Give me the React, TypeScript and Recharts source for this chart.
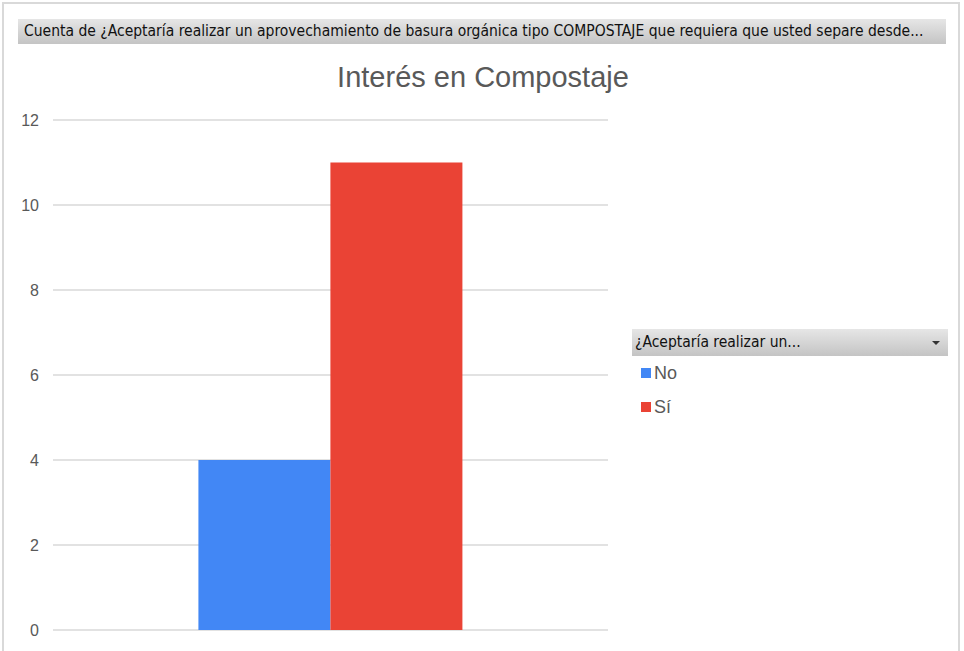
import React from "react";
import { BarChart, Bar, XAxis, YAxis, CartesianGrid, Legend } from "recharts";

const categories = ["Total"];
const seriesNames = ["No", "Sí"];
const seriesColors = ["#4287f5", "#ea4335"];
const noValues = [4];
const siValues = [11];
const yTicks = [0, 2, 4, 6, 8, 10, 12];

const data = categories.map((c, i) => ({
  name: c,
  No: noValues[i],
  "Sí": siValues[i],
}));

const fieldHeader =
  "Cuenta de ¿Aceptaría realizar un aprovechamiento de basura orgánica tipo COMPOSTAJE que requiera que usted separe desde...";
const title = "Interés en Compostaje";
const legendHeader = "¿Aceptaría realizar un...";

const barGradient = "linear-gradient(#e6e6e6, #c4c4c4)";

function LegendBox(props: any) {
  const payload = props.payload || [];
  return (
    <div style={{ width: 316 }}>
      <div
        style={{
          height: 27,
          background: barGradient,
          position: "relative",
          fontFamily: "'DejaVu Sans Condensed', 'DejaVu Sans', sans-serif",
          fontSize: 15.5,
          lineHeight: "27px",
          color: "#111",
          paddingLeft: 3,
          boxSizing: "border-box",
          textAlign: "left",
        }}
      >
        {legendHeader}
        <div
          style={{
            position: "absolute",
            right: 8,
            top: 12,
            width: 0,
            height: 0,
            borderLeft: "4px solid transparent",
            borderRight: "4px solid transparent",
            borderTop: "4px solid #333",
          }}
        />
      </div>
      {payload.map((p: any) => (
        <div
          key={p.value}
          style={{
            height: 34,
            display: "flex",
            alignItems: "center",
            paddingLeft: 9,
            fontFamily: "'Liberation Sans', Arial, sans-serif",
            fontSize: 18,
            color: "#595959",
          }}
        >
          <span
            style={{
              display: "inline-block",
              width: 10,
              height: 10,
              background: p.color,
              marginRight: 3,
            }}
          />
          {p.value}
        </div>
      ))}
    </div>
  );
}

export default function App() {
  return (
    <div
      style={{
        position: "absolute",
        left: 0,
        top: 0,
        width: 964,
        height: 651,
        background: "#fff",
        overflow: "hidden",
      }}
    >
      <div
        style={{
          position: "absolute",
          left: 2,
          top: 2,
          width: 958,
          height: 660,
          border: "2px solid #d9d9d9",
          boxSizing: "border-box",
        }}
      />
      <div
        style={{
          position: "absolute",
          left: 18,
          top: 19,
          width: 928,
          height: 25,
          background: barGradient,
          fontFamily: "'DejaVu Sans Condensed', 'DejaVu Sans', sans-serif",
          fontSize: 15.5,
          lineHeight: "25px",
          color: "#111",
          paddingLeft: 6,
          boxSizing: "border-box",
          whiteSpace: "nowrap",
          overflow: "hidden",
        }}
      >
        {fieldHeader}
      </div>
      <div
        style={{
          position: "absolute",
          left: 0,
          top: 61,
          width: 966,
          textAlign: "center",
          fontFamily: "'Liberation Sans', Arial, sans-serif",
          fontSize: 29,
          color: "#595959",
        }}
      >
        {title}
      </div>
      <div style={{ position: "absolute", left: 0, top: 0 }}>
        <BarChart
          width={964}
          height={651}
          data={data}
          margin={{ top: 120, right: 356, bottom: 21, left: 13 }}
          barCategoryGap="26.2%"
          barGap={0}
        >
          <CartesianGrid vertical={false} stroke="#d9d9d9" strokeWidth={1.5} />
          <XAxis dataKey="name" hide />
          <YAxis
            width={40}
            domain={[0, 12]}
            ticks={yTicks}
            axisLine={false}
            tickLine={false}
            tickMargin={8}
            tick={{
              fill: "#595959",
              fontSize: 16,
              fontFamily: "'Liberation Sans', Arial, sans-serif",
            }}
          />
          <Legend
            layout="vertical"
            align="center"
            verticalAlign="middle"
            content={<LegendBox />}
            wrapperStyle={{ left: 632, top: 329, width: 316 }}
          />
          {seriesNames.map((s, i) => (
            <Bar
              key={s}
              dataKey={s}
              fill={seriesColors[i]}
              isAnimationActive={false}
            />
          ))}
        </BarChart>
      </div>
    </div>
  );
}
